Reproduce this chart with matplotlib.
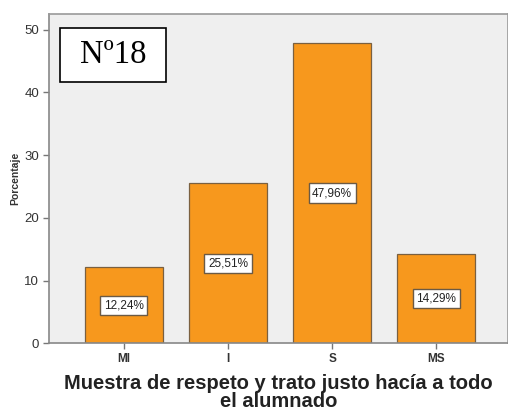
import matplotlib
matplotlib.use('Agg')
import matplotlib.pyplot as plt
from matplotlib.patches import Rectangle

categorias = ['MI', 'I', 'S', 'MS']
porcentajes = [12.24, 25.51, 47.96, 14.29]
etiquetas = ['12,24%', '25,51%', '47,96%', '14,29%']
yticks = [0, 10, 20, 30, 40, 50]

plt.rcParams['font.family'] = ['Liberation Sans', 'DejaVu Sans']

fig = plt.figure(figsize=(5.08, 4.16), dpi=100)
ax = fig.add_axes([0.0965, 0.1743, 0.9035, 0.792])
ax.set_facecolor('#efefef')

x = list(range(len(categorias)))
ax.bar(x, porcentajes, width=0.75, color='#f7981d', edgecolor='#7a6040', linewidth=0.9, zorder=2)

# etiquetas a mitad de cada barra
for xi, v, lab in zip(x, porcentajes, etiquetas):
    ax.text(xi, v / 2, lab, ha='center', va='center', fontsize=8.5, color='#222222',
            bbox=dict(boxstyle='square,pad=0.3', fc='white', ec='#6b5a45', lw=1.0), zorder=3)

ax.set_xlim(-0.72, 3.69)
ax.set_ylim(0, 52.5)
ax.set_xticks(x)
ax.set_xticklabels(categorias, fontsize=8.5, fontweight='bold', color='#333333')
ax.set_yticks(yticks)
ax.set_yticklabels([str(t) for t in yticks], fontsize=9.5, color='#333333')
ax.tick_params(axis='both', direction='out', length=4, width=1, color='#777777', pad=3)

for s in ax.spines.values():
    s.set_color('#999999')
    s.set_linewidth(1.2)
ax.spines['left'].set_color('#888888')
ax.spines['bottom'].set_color('#888888')

ax.set_ylabel('Porcentaje', fontsize=7.5, fontweight='bold', color='#333333', labelpad=3)
ax.set_xlabel('Muestra de respeto y trato justo hacía a todo\nel alumnado', fontsize=14.5,
              fontweight='bold', color='#222222', linespacing=0.95, labelpad=6)

# recuadro del numero de item
ax.add_patch(Rectangle((0.024, 0.794), 0.231, 0.163, transform=ax.transAxes,
                       fc='white', ec='black', lw=1.2, zorder=4))
ax.text(0.139, 0.876, 'Nº18', transform=ax.transAxes, ha='center', va='center',
        fontsize=23.5, family='Liberation Serif', color='black', zorder=5)

fig.savefig('out.png', dpi=100)
